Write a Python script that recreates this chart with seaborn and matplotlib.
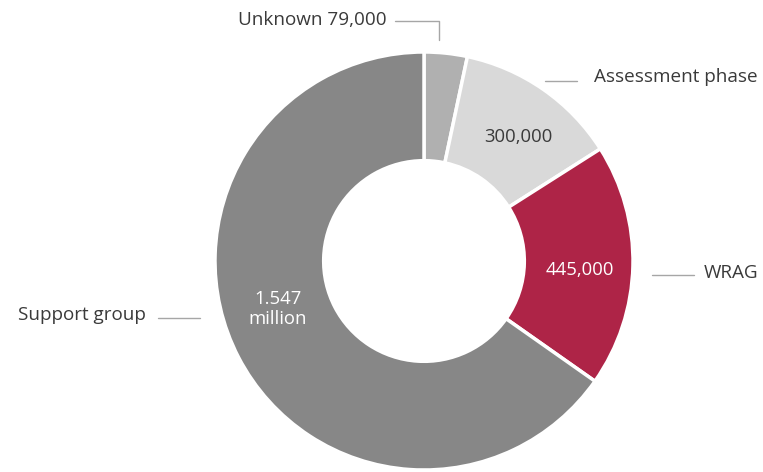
import matplotlib
matplotlib.use("Agg")
import seaborn as sns
from matplotlib import pyplot as plt

sns.set_theme(style="white")
plt.rcParams['font.family'] = ['Open Sans', 'DejaVu Sans']

# 数据
labels = ["Unknown", "Assessment phase", "WRAG", "Support group"]
values = [79000, 300000, 445000, 1547000]
value_text = ["79,000", "300,000", "445,000", "1.547\nmillion"]
colors = ["#b0b0b0", "#d9d9d9", "#ae2447", "#878787"]

W, H = 763, 472
cx, cy, R = 424, 261, 209

fig = plt.figure(figsize=(W / 100, H / 100), dpi=100)
ax = fig.add_axes([(cx - R) / W, (H - cy - R) / H, 2 * R / W, 2 * R / H])


def px(x, y):
    # 像素坐标 -> 数据坐标
    return (x - cx) / R, (cy - y) / R


ax.pie(values, colors=colors, startangle=90, counterclock=False, radius=1,
       wedgeprops=dict(width=0.52, edgecolor="white", linewidth=2.5))
ax.set_xlim(-1, 1)
ax.set_ylim(-1, 1)
ax.set_aspect("equal")
ax.axis("off")

txt = "#3a3a3a"
line = "#a6a6a6"
fs = 13.6
fs_in = 13.3

# 外部标签与引线
ax.text(*px(387, 20), labels[0] + " " + value_text[0], ha="right", va="center",
        color=txt, fontsize=fs, clip_on=False)
ax.plot(*zip(px(395, 21), px(439, 21), px(439, 40)), color=line, lw=1, clip_on=False)

ax.text(*px(594, 77), labels[1], ha="left", va="center", color=txt, fontsize=fs, clip_on=False)
ax.plot(*zip(px(545, 81), px(577, 81)), color=line, lw=1, clip_on=False)

ax.text(*px(704, 273), labels[2], ha="left", va="center", color=txt, fontsize=fs, clip_on=False)
ax.plot(*zip(px(652, 275), px(694, 275)), color=line, lw=1, clip_on=False)

ax.text(*px(146, 315), labels[3], ha="right", va="center", color=txt, fontsize=fs, clip_on=False)
ax.plot(*zip(px(158, 318), px(200, 318)), color=line, lw=1, clip_on=False)

# 扇区内数值
ax.text(*px(518, 137), value_text[1], ha="center", va="center", color=txt, fontsize=fs_in)
ax.text(*px(580, 270), value_text[2], ha="center", va="center", color="white", fontsize=fs_in)
ax.text(*px(278, 309), value_text[3], ha="center", va="center", color="white",
        fontsize=fs_in, linespacing=1.15)

fig.savefig("out.png", dpi=100, facecolor="white")
